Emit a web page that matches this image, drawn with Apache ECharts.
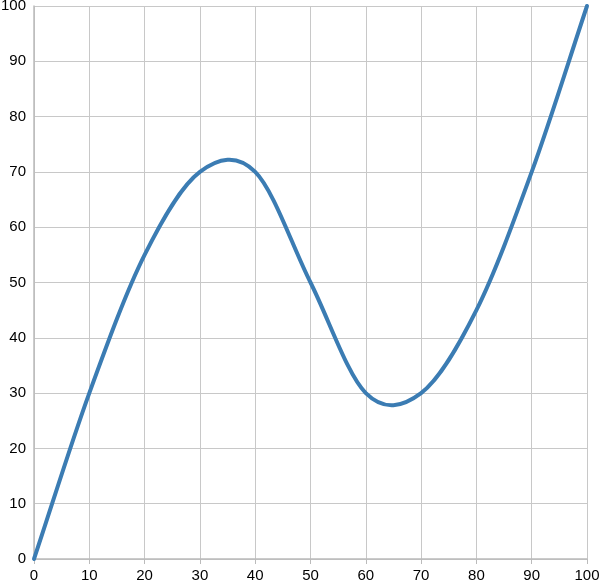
<!DOCTYPE html>
<html><head><meta charset="utf-8">
<script src="https://cdn.jsdelivr.net/npm/echarts@6/dist/echarts.min.js"></script>
<style>html,body{margin:0;padding:0;background:#fff}#c{width:600px;height:583px}</style>
</head><body><div id="c"></div>
<script>
const xValues = [0, 10, 20, 30, 40, 50, 60, 70, 80, 90, 100];
const yValues = [0, 30, 55, 70, 70, 50, 30, 30, 45, 70, 100];
const xTicks = [0, 10, 20, 30, 40, 50, 60, 70, 80, 90, 100];
const yTicks = [0, 10, 20, 30, 40, 50, 60, 70, 80, 90, 100];

const chart = echarts.init(document.getElementById('c'), null, {renderer: 'canvas'});
const axisLabel = {color: '#000', fontFamily: 'Liberation Sans, Arial, sans-serif', fontSize: 15};

// smooth curve through the data points (Catmull-Rom rendered as cubic Beziers),
// every point placed with the chart's own axes via api.coord
function renderCurve(params, api) {
  if (params.dataIndex !== 0) return null;
  const pts = xValues.map((x, i) => api.coord([x, yValues[i]]));
  const n = pts.length;
  const get = (i) => {
    if (i < 0) return [2 * pts[0][0] - pts[1][0], 2 * pts[0][1] - pts[1][1]];
    if (i >= n) return [2 * pts[n - 1][0] - pts[n - 2][0], 2 * pts[n - 1][1] - pts[n - 2][1]];
    return pts[i];
  };
  let d = 'M' + pts[0][0] + ' ' + pts[0][1];
  for (let i = 0; i < n - 1; i++) {
    const p0 = get(i - 1), p1 = get(i), p2 = get(i + 1), p3 = get(i + 2);
    const c1 = [p1[0] + (p2[0] - p0[0]) / 6, p1[1] + (p2[1] - p0[1]) / 6];
    const c2 = [p2[0] - (p3[0] - p1[0]) / 6, p2[1] - (p3[1] - p1[1]) / 6];
    d += ' C' + c1[0] + ' ' + c1[1] + ' ' + c2[0] + ' ' + c2[1] + ' ' + p2[0] + ' ' + p2[1];
  }
  return {
    type: 'path',
    shape: {pathData: d},
    style: {fill: 'none', stroke: '#3b7cb3', lineWidth: 4, lineJoin: 'round', lineCap: 'round'}
  };
}

chart.setOption({
  animation: false,
  grid: {left: 34, right: 13, top: 6, bottom: 24, containLabel: false, outerBoundsMode: 'none'},
  xAxis: {type: 'value', min: xTicks[0], max: xTicks[xTicks.length - 1], interval: xTicks[1] - xTicks[0],
    axisLine: {lineStyle: {color: '#bbb', width: 1.5}},
    axisTick: {show: true, length: 5, lineStyle: {color: '#bbb'}},
    axisLabel: Object.assign({margin: 9}, axisLabel),
    splitLine: {lineStyle: {color: '#c8c8c8', width: 1}}},
  yAxis: {type: 'value', min: yTicks[0], max: yTicks[yTicks.length - 1], interval: yTicks[1] - yTicks[0],
    axisLine: {show: true, lineStyle: {color: '#bbb', width: 1.5}},
    axisTick: {show: false},
    axisLabel: Object.assign({margin: 8}, axisLabel),
    splitLine: {lineStyle: {color: '#c8c8c8', width: 1}}},
  series: [{type: 'custom', coordinateSystem: 'cartesian2d',
    data: xValues.map((x, i) => [x, yValues[i]]),
    encode: {x: 0, y: 1},
    renderItem: renderCurve}]
});
</script></body></html>
